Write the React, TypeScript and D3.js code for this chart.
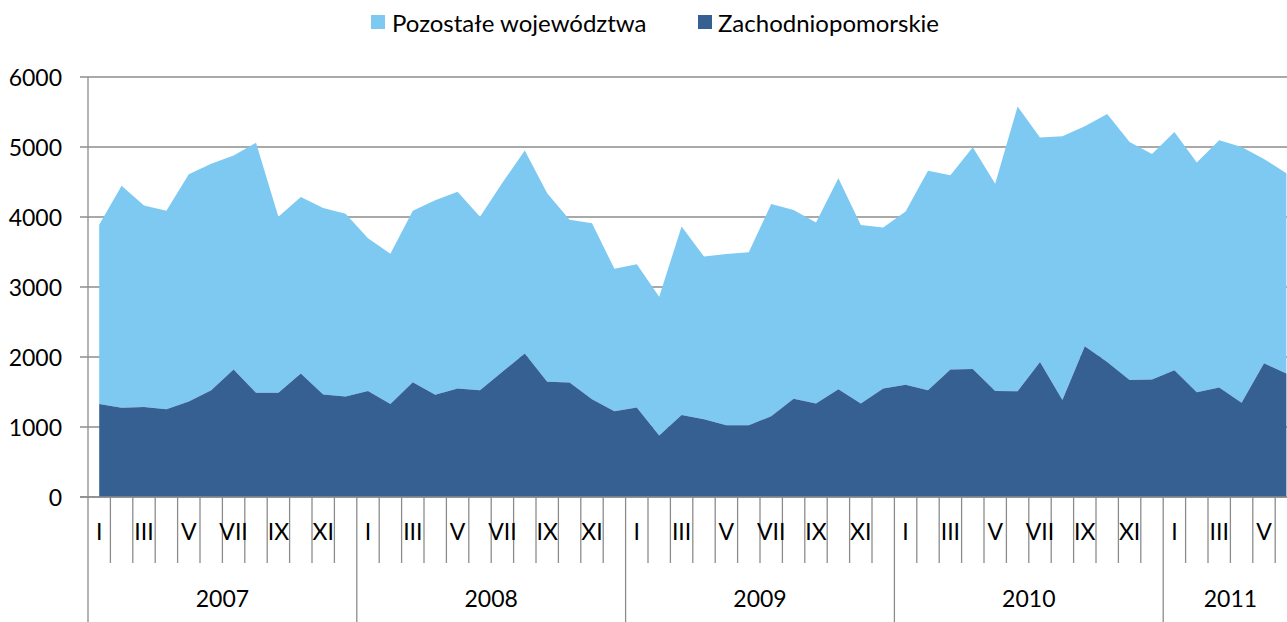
import * as d3 from "d3";

const C = {
  light: "#7ec9f2",
  dark: "#376092",
  grid: "#8c8c8c",
  text: "#000000",
};

const W = 1287, H = 622;
const X0 = 88, BAND = 22.4;
const Y_TOP = 77, Y_BOT = 497;
const FONT = "Lato, 'Noto Sans', sans-serif";
const FS = 23;

const ROMAN = ["I", "II", "III", "IV", "V", "VI", "VII", "VIII", "IX", "X", "XI", "XII"];
const YEARS = ["2007", "2008", "2009", "2010", "2011"];
const MONTHS_IN_YEAR = [12, 12, 12, 12, 6];
const Y_TICKS = [0, 1000, 2000, 3000, 4000, 5000, 6000];

// Zachodniopomorskie (bottom series)
const ZACH = [
  1330, 1275, 1285, 1255, 1365, 1525, 1820, 1490, 1490, 1765, 1465, 1435,
  1515, 1330, 1640, 1460, 1550, 1525, 1790, 2050, 1645, 1635, 1395, 1225,
  1280, 880, 1170, 1110, 1025, 1025, 1155, 1405, 1335, 1540, 1335, 1550,
  1605, 1525, 1820, 1830, 1515, 1510, 1930, 1385, 2155, 1930, 1670, 1680,
  1810, 1495, 1565, 1345, 1910, 1765,
];
// Pozostałe województwa (stacked on top)
const POZ = [
  2560, 3170, 2880, 2835, 3245, 3235, 3060, 3570, 2515, 2520, 2665, 2610,
  2180, 2145, 2450, 2780, 2810, 2480, 2700, 2900, 2695, 2325, 2515, 2035,
  2045, 1980, 2695, 2325, 2445, 2470, 3030, 2695, 2585, 3015, 2550, 2300,
  2475, 3135, 2775, 3165, 2960, 4070, 3205, 3770, 3140, 3540, 3400, 3220,
  3405, 3285, 3530, 3655, 2920, 2860,
];

const ROWS = ZACH.map((z, i) => ({ i, zach: z, poz: POZ[i] }));
const N = ROWS.length;

export default function App() {
  const x = d3.scaleBand<number>()
    .domain(d3.range(N))
    .range([X0, X0 + N * BAND])
    .paddingInner(0).paddingOuter(0);
  const cx = (i: number) => (x(i) as number) + x.bandwidth() / 2;
  const y = d3.scaleLinear().domain([0, 6000]).range([Y_BOT, Y_TOP]);

  const series = d3.stack<any>().keys(["zach", "poz"])(ROWS);
  const area = d3.area<any>()
    .x((d) => cx(d.data.i))
    .y0((d) => y(d[0]))
    .y1((d) => y(d[1]));

  // month labels (every other) and year groups
  const monthLabels: { i: number; label: string }[] = [];
  const yearGroups: { start: number; end: number; label: string }[] = [];
  let k = 0;
  YEARS.forEach((yr, yi) => {
    const n = MONTHS_IN_YEAR[yi];
    yearGroups.push({ start: k, end: k + n, label: yr });
    for (let m = 0; m < n; m++) {
      if (m % 2 === 0) monthLabels.push({ i: k, label: ROMAN[m] });
      k++;
    }
  });
  const edge = (j: number) => X0 + j * x.bandwidth();

  return (
    <div style={{ position: "absolute", left: 0, top: 0, width: W, height: H, overflow: "hidden", background: "#fff" }}>
      <svg width={W} height={H} style={{ display: "block", fontFamily: FONT }}>
        {/* gridlines */}
        {Y_TICKS.map((t) => (
          <g key={t}>
            <line x1={80} x2={W} y1={y(t)} y2={y(t)} stroke={C.grid} strokeWidth={1.3} />
            <text x={62} y={y(t)} textAnchor="end" dominantBaseline="central" fontSize={FS} fill={C.text}>{t}</text>
          </g>
        ))}

        {/* areas */}
        <path d={area(series[1]) || ""} fill={C.light} />
        <path d={area(series[0]) || ""} fill={C.dark} />

        {/* axes */}
        <line x1={X0} x2={X0} y1={Y_TOP} y2={Y_BOT} stroke={C.grid} strokeWidth={1.3} />
        <line x1={80} x2={W} y1={Y_BOT} y2={Y_BOT} stroke={C.grid} strokeWidth={1.3} />

        {/* month ticks */}
        {d3.range(N + 1).map((j) => {
          const isYear = yearGroups.some((g) => g.start === j);
          return (
            <line key={j} x1={edge(j)} x2={edge(j)} y1={Y_BOT} y2={isYear ? H : 563}
              stroke={C.grid} strokeWidth={1.3} />
          );
        })}
        {monthLabels.map((m) => (
          <text key={m.i} x={cx(m.i)} y={531} textAnchor="middle" dominantBaseline="central" fontSize={FS} fill={C.text}>{m.label}</text>
        ))}
        {yearGroups.map((g) => (
          <text key={g.label} x={(edge(g.start) + edge(g.end)) / 2} y={598} textAnchor="middle" dominantBaseline="central" fontSize={FS} fill={C.text}>{g.label}</text>
        ))}

        {/* legend */}
        <rect x={371} y={15} width={14} height={14} fill={C.light} />
        <text x={392} y={22} dominantBaseline="central" fontSize={24} fill={C.text}>Pozostałe województwa</text>
        <rect x={698} y={15} width={14} height={14} fill={C.dark} />
        <text x={718} y={22} dominantBaseline="central" fontSize={24} fill={C.text}>Zachodniopomorskie</text>
      </svg>
    </div>
  );
}
